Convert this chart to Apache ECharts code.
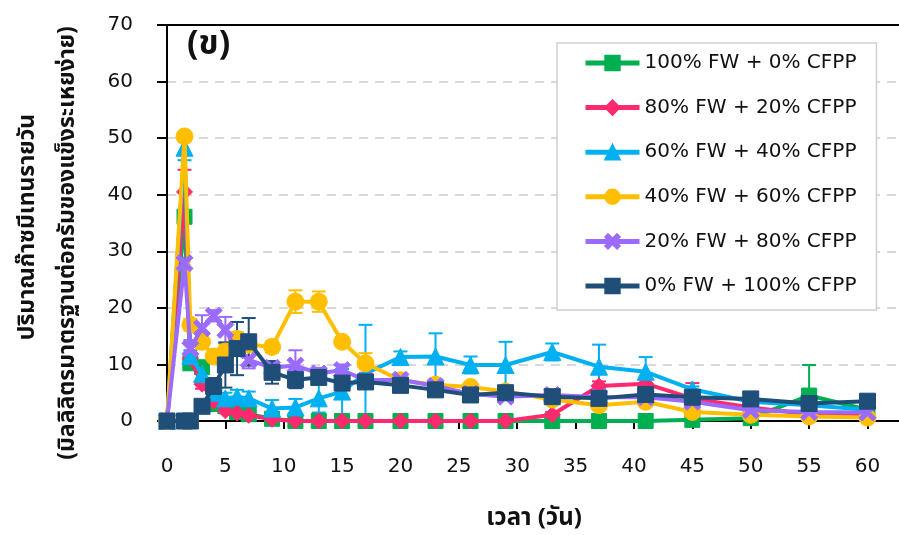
<!DOCTYPE html>
<html>
<head>
<meta charset="utf-8">
<script src="https://cdn.jsdelivr.net/npm/echarts@6/dist/echarts.min.js"></script>
<style>
  html, body { margin: 0; padding: 0; background: #ffffff; }
  #chart { width: 899px; height: 535px; }
</style>
</head>
<body>
<div id="chart"></div>
<script>
// Sampling days
const days = [0, 1.5, 2, 3, 4, 5, 6, 7, 9, 11, 13, 15, 17, 20, 23, 26, 29, 33, 37, 41, 45, 50, 55, 60];

// Daily methane yield per mix (mL STP / g VS)
const fw100 = [0, 36.1, 10.2, 9.5, 3.0, 2.6, 1.6, 1.2, 0.4, 0, 0, 0, 0, 0, 0, 0, 0, 0, 0, 0, 0.2, 0.5, 4.5, 2.0];
const fw80  = [0, 40.5, 11.0, 6.5, 3.5, 1.8, 1.4, 1.0, 0.3, 0, 0, 0, 0, 0, 0, 0, 0, 1.1, 6.2, 6.6, 4.0, 2.4, 1.2, 0.9];
const fw60  = [0, 48.3, 11.5, 8.3, 5.0, 4.0, 4.3, 4.0, 2.2, 2.4, 4.0, 5.2, 8.4, 11.3, 11.4, 9.9, 9.9, 12.2, 9.6, 8.7, 5.6, 3.4, 2.8, 2.0];
const fw40  = [0, 50.3, 17.0, 14.0, 11.4, 12.3, 14.5, 13.5, 13.1, 21.1, 21.1, 14.0, 10.2, 7.2, 6.4, 6.0, 5.2, 3.8, 2.8, 3.4, 1.6, 1.1, 0.8, 0.6];
const fw20  = [0, 27.9, 12.8, 16.4, 18.6, 16.1, 12.5, 10.8, 9.4, 9.8, 8.4, 9.0, 7.2, 7.3, 6.2, 4.8, 4.3, 4.6, 4.2, 4.2, 3.4, 1.9, 1.6, 1.5];
const fw0   = [0, 0, 0, 2.6, 6.1, 9.9, 12.8, 14.0, 8.6, 7.3, 7.7, 6.7, 6.9, 6.3, 5.5, 4.6, 5.0, 4.3, 4.0, 4.7, 4.2, 3.9, 3.1, 3.5];

// Standard deviations (error bars)
const fw100Err = [0, 1, 0.5, 0.5, 0, 0, 0, 0, 0, 0, 0, 0, 0, 0, 0, 0, 0, 0, 0, 0, 0, 0, 5.4, 0];
const fw80Err  = [0, 3.9, 0.8, 0.8, 0.5, 0, 0, 0, 0, 0, 0, 0, 0, 0, 0, 0, 0, 0.5, 0.8, 0.8, 2.7, 0, 0, 0];
const fw60Err  = [0, 2.2, 1, 1, 0.8, 1, 1.2, 1.2, 1.5, 1.5, 2.5, 4, 8.6, 1.0, 4.1, 1.5, 4.1, 1.5, 3.9, 2.6, 0.5, 0, 0, 0];
const fw40Err  = [0, 0.5, 1, 1.2, 1, 1.2, 1.2, 1, 1, 2, 1.8, 0.8, 1.8, 0.5, 0.5, 0.5, 0.5, 0.5, 0.5, 0.5, 0.5, 0.5, 0.5, 0.5];
const fw20Err  = [0, 1, 1.5, 2.3, 1, 2.3, 1, 1.5, 1, 2.7, 1, 1, 0.8, 0.5, 0.5, 0.5, 0.5, 0.5, 0.5, 0.5, 0.5, 0.3, 0.3, 0.3];
const fw0Err   = [0, 0, 0, 0.5, 1.5, 4, 4.7, 4.2, 2, 1.5, 1, 0.8, 0.5, 0.5, 0.5, 0.5, 0.5, 0.5, 0.5, 0.5, 0.5, 0.3, 0.3, 0.3];

const seriesNames = [
  '100% FW + 0% CFPP',
  '80% FW + 20% CFPP',
  '60% FW + 40% CFPP',
  '40% FW + 60% CFPP',
  '20% FW + 80% CFPP',
  '0% FW + 100% CFPP'
];
const seriesValues = [fw100, fw80, fw60, fw40, fw20, fw0];
const seriesErrors = [fw100Err, fw80Err, fw60Err, fw40Err, fw20Err, fw0Err];
const colors = ['#00b050', '#ff2a6e', '#00b0f0', '#ffbf00', '#9b6bff', '#1f4e79'];

const crossPath = 'path://M3,0 L8,5 L13,0 L16,3 L11,8 L16,13 L13,16 L8,11 L3,16 L0,13 L5,8 L0,3 Z';
const symbols = ['rect', 'diamond', 'triangle', 'circle', crossPath, 'rect'];
const symbolSizes = [15, 16, 17, 17, 17, 16];

const FONT = "'DejaVu Sans', Tahoma, sans-serif";
const THAI_FONT = "Tahoma, 'Noto Sans Thai', 'Leelawadee UI', 'DejaVu Sans', sans-serif";

// Day axis runs a little past 60; the plot is cut at the right edge
const X_MAX = 62.7;

const chart = echarts.init(document.getElementById('chart'), null, { renderer: 'canvas' });

const series = [];

// Error bars first so the lines and markers sit over them
seriesValues.forEach((vals, i) => {
  const errData = days.map((d, k) => [d, vals[k], seriesErrors[i][k]]);
  series.push({
    type: 'custom',
    name: seriesNames[i] + ' sd',
    silent: true,
    z: 1,
    data: errData,
    renderItem: function (params, api) {
      const x = api.value(0), y = api.value(1), e = api.value(2);
      if (!e) return null;
      const top = api.coord([x, y + e]);
      const bot = api.coord([x, Math.max(0, y - e)]);
      const cw = 7;
      const style = { stroke: colors[i], lineWidth: 2 };
      const children = [
        { type: 'line', shape: { x1: top[0], y1: top[1], x2: bot[0], y2: bot[1] }, style: style },
        { type: 'line', shape: { x1: top[0] - cw, y1: top[1], x2: top[0] + cw, y2: top[1] }, style: style }
      ];
      if (y - e > 0) {
        children.push({ type: 'line', shape: { x1: bot[0] - cw, y1: bot[1], x2: bot[0] + cw, y2: bot[1] }, style: style });
      }
      return { type: 'group', children: children };
    }
  });
});

seriesValues.forEach((vals, i) => {
  series.push({
    type: 'line',
    name: seriesNames[i],
    z: 2 + i,
    data: days.map((d, k) => [d, vals[k]]),
    symbol: symbols[i],
    symbolSize: symbolSizes[i],
    showAllSymbol: true,
    lineStyle: { color: colors[i], width: 4 },
    itemStyle: { color: colors[i], borderColor: colors[i], borderWidth: 1, opacity: 1 },
    emphasis: { disabled: true },
    animation: false
  });
});

const option = {
  animation: false,
  backgroundColor: '#ffffff',
  grid: { left: 167, top: 25, right: 0, height: 396, show: false },
  xAxis: [
    {
      type: 'value', min: 0, max: X_MAX, interval: 5,
      axisLine: { show: true, onZero: false, lineStyle: { color: '#000000', width: 2 } },
      axisTick: { show: true, inside: false, length: 8, lineStyle: { color: '#000000', width: 2 } },
      axisLabel: { color: '#111111', fontSize: 20, fontFamily: FONT, margin: 36, showMaxLabel: false },
      splitLine: { show: false }
    },
    {
      // top frame line of the plot area
      type: 'value', position: 'top', min: 0, max: X_MAX,
      axisLine: { show: true, onZero: false, lineStyle: { color: '#000000', width: 2 } },
      axisTick: { show: false },
      axisLabel: { show: false },
      splitLine: { show: false }
    }
  ],
  yAxis: {
    type: 'value', min: 0, max: 70, interval: 10,
    axisLine: { show: true, lineStyle: { color: '#000000', width: 2 } },
    axisTick: { show: true, inside: false, length: 10, lineStyle: { color: '#000000', width: 2 } },
    axisLabel: { color: '#111111', fontSize: 20, fontFamily: FONT, margin: 34 },
    splitLine: { show: true, lineStyle: { color: '#d9d9d9', width: 2, type: [9, 7] } }
  },
  legend: {
    data: seriesNames,
    orient: 'vertical',
    left: 557, top: 43,
    width: 326,
    padding: [10, 20, 14, 26],
    itemWidth: 54, itemHeight: 18, itemGap: 24.6,
    backgroundColor: '#ffffff',
    borderColor: '#d0d0d0', borderWidth: 1.5,
    lineStyle: { width: 5 },
    textStyle: { color: '#111111', fontSize: 20, fontFamily: FONT, lineHeight: 18 },
    selectedMode: false
  },
  graphic: [
    { type: 'text', left: 187, top: 30, z: 10,
      style: { text: '(ข)', font: "bold 34px " + THAI_FONT, fill: '#111111' } },
    { type: 'text', x: 534, y: 520, z: 10,
      style: { text: 'เวลา (วัน)', font: "bold 24px " + THAI_FONT, fill: '#111111', textAlign: 'center', textVerticalAlign: 'middle' } },
    { type: 'text', x: 29, y: 227, rotation: Math.PI / 2, z: 10,
      style: { text: 'ปริมาณก๊าซมีเทนรายวัน', font: "bold 23px " + THAI_FONT, fill: '#111111', textAlign: 'center', textVerticalAlign: 'middle' } },
    { type: 'text', x: 69, y: 243, rotation: Math.PI / 2, z: 10,
      style: { text: '(มิลลิลิตรมาตรฐานต่อกรัมของแข็งระเหยง่าย)', font: "bold 23px " + THAI_FONT, fill: '#111111', textAlign: 'center', textVerticalAlign: 'middle' } }
  ],
  series: series
};

chart.setOption(option);
</script>
</body>
</html>
